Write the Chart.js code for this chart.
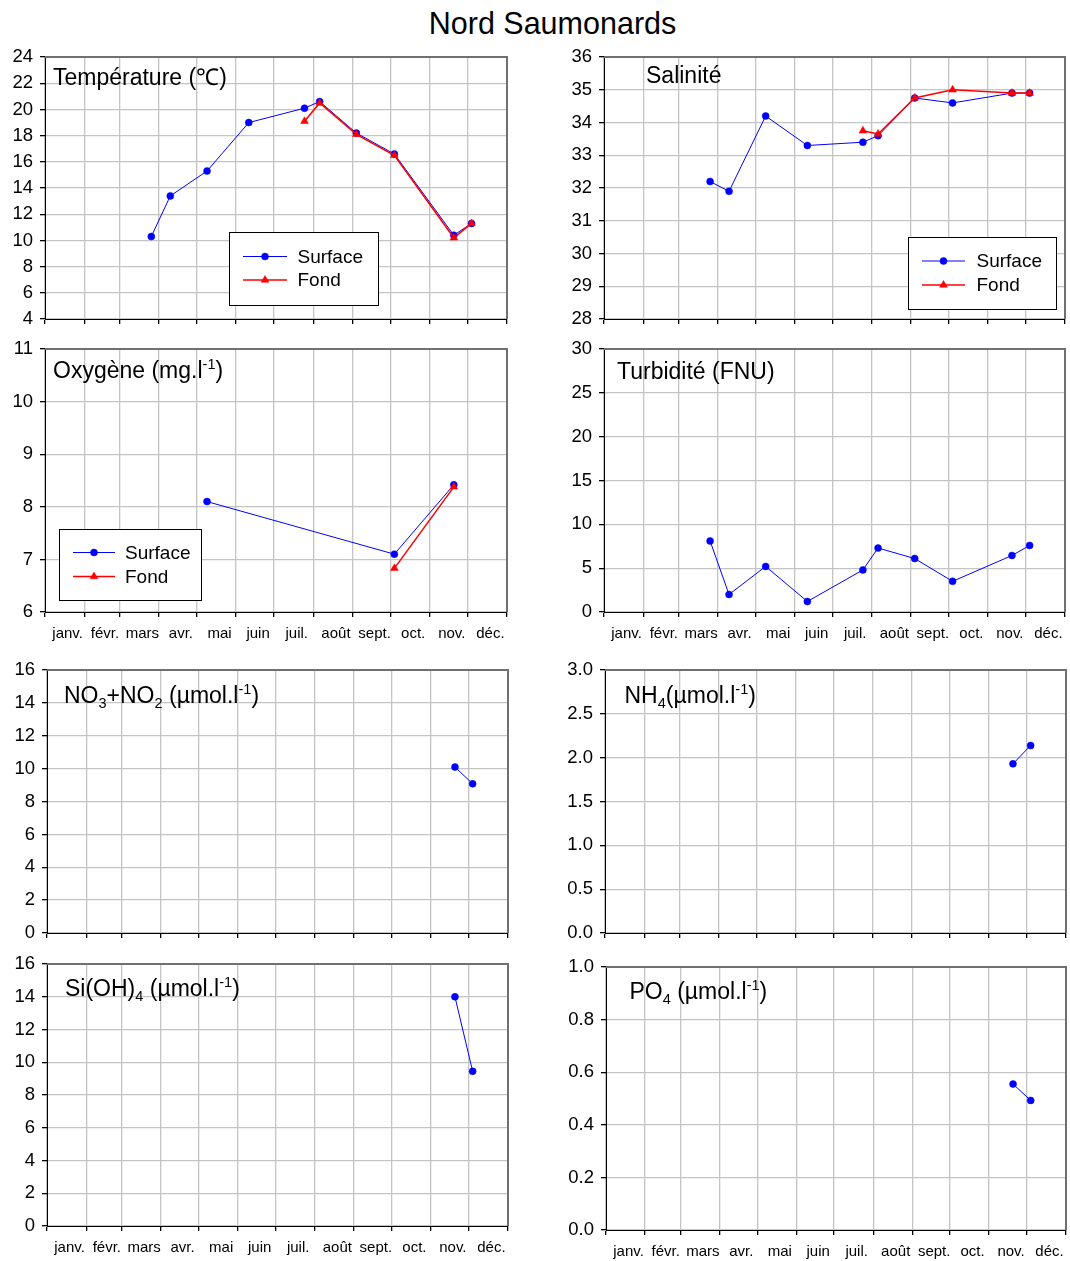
<!DOCTYPE html>
<html><head><meta charset="utf-8">
<script src="https://cdn.jsdelivr.net/npm/chart.js@4/dist/chart.umd.min.js"></script>
<style>
html,body{margin:0;padding:0;background:#fff;}
body{width:1070px;height:1261px;position:relative;overflow:hidden;font-family:"Liberation Sans",Arial,sans-serif;color:#000;}
canvas{position:absolute;}
#main{position:absolute;left:0;width:1105px;text-align:center;top:8px;font-size:30.5px;line-height:30px;}
.ttl{position:absolute;font-size:23px;line-height:22px;white-space:nowrap;}
.ttl sub,.ttl sup{font-size:14.5px;line-height:0;}
.ttl sub{vertical-align:-5px;}
.ttl sup{vertical-align:9px;}
</style></head>
<body>
<div id="main">Nord Saumonards</div>
<script>
// ---------- DATA ----------
const monthLabels = ['janv.','févr.','mars','avr.','mai','juin','juil.','août','sept.','oct.','nov.','déc.'];
const monthStarts = [0,31,59,90,120,151,181,212,243,273,304,334,365];
const sampleDays  = [84, 99, 128, 161, 205, 217, 246, 276, 323, 337];

const tempSurface = [10.3, 13.4, 15.3, 19.0, 20.1, 20.6, 18.2, 16.6, 10.4, 11.3];
const tempFond    = [null, null, null, null, 19.1, 20.5, 18.1, 16.5, 10.2, 11.3];
const salSurface  = [32.2, 31.9, 34.2, 33.3, 33.4, 33.6, 34.75, 34.6, 34.9, 34.9];
const salFond     = [null, null, null, null, 33.75, 33.65, 34.75, 35.0, 34.9, 34.9];
const oxySurface  = [null, null, 8.1, null, null, null, null, 7.1, 8.42, null];
const oxyFond     = [null, null, null, null, null, null, null, 6.83, 8.38, null];
const turbSurface = [8.1, 2.0, 5.2, 1.2, 4.8, 7.3, 6.1, 3.5, 6.45, 7.6];
const no3Surface  = [null, null, null, null, null, null, null, null, 10.1, 9.08];
const nh4Surface  = [null, null, null, null, null, null, null, null, 1.93, 2.14];
const siSurface   = [null, null, null, null, null, null, null, null, 14.0, 9.45];
const po4Surface  = [null, null, null, null, null, null, null, null, 0.555, 0.493];

const tempTicks = [4,6,8,10,12,14,16,18,20,22,24];
const salTicks  = [28,29,30,31,32,33,34,35,36];
const oxyTicks  = [6,7,8,9,10,11];
const turbTicks = [0,5,10,15,20,25,30];
const no3Ticks  = [0,2,4,6,8,10,12,14,16];
const nh4Ticks  = [0,0.5,1.0,1.5,2.0,2.5,3.0];
const siTicks   = [0,2,4,6,8,10,12,14,16];
const po4Ticks  = [0,0.2,0.4,0.6,0.8,1.0];

// ---------- HELPERS ----------
const FONT = '"Liberation Sans", Arial, sans-serif';
const AXW = 50, PADT = 18, PADR = 8, XAH = 42;
const midMap = new Map();
for (let i = 0; i < 12; i++) midMap.set((monthStarts[i] + monthStarts[i+1]) / 2, i);

function pts(vals){ return sampleDays.map((d,i)=>({x:d, y:vals[i]})).filter(p=>p.y!==null); }

function surfaceDs(vals){
  return {label:'Surface', data:pts(vals), borderColor:'#0000ff', backgroundColor:'#0000ff',
    borderWidth:1, pointStyle:'circle', pointRadius:3.5, pointBorderWidth:0.5,
    pointBackgroundColor:'#0000ff', pointBorderColor:'#0000ff', order:1, tension:0};
}
function fondDs(vals){
  return {label:'Fond', data:pts(vals), borderColor:'#ff0000', backgroundColor:'#ff0000',
    borderWidth:1.5, pointStyle:'triangle', pointRadius:4.5, pointBorderWidth:0.5,
    pointBackgroundColor:'#ff0000', pointBorderColor:'#ff0000', order:0, tension:0};
}

const framePlugin = {
  id:'frame',
  afterDatasetsDraw(chart){
    const {left, top, right, bottom} = chart.chartArea;
    const ctx = chart.ctx;
    ctx.save();
    ctx.strokeStyle = '#707070'; ctx.lineWidth = 2;
    ctx.beginPath(); ctx.moveTo(left, top); ctx.lineTo(right, top); ctx.lineTo(right, bottom); ctx.stroke();
    ctx.restore();
  }
};

const legendPlugin = {
  id:'boxLegend',
  afterDraw(chart, args, opts){
    if (!opts || !opts.box) return;
    const ctx = chart.ctx, ox = opts.ox, oy = opts.oy;
    const [x1,y1,x2,y2] = opts.box;
    ctx.save();
    ctx.fillStyle = '#fff';
    ctx.fillRect(x1-ox, y1-oy, x2-x1, y2-y1);
    ctx.strokeStyle = '#000'; ctx.lineWidth = 1;
    ctx.strokeRect(Math.round(x1-ox)+0.5, Math.round(y1-oy)+0.5, Math.round(x2-x1), Math.round(y2-y1));
    const dsList = chart.data.datasets;
    dsList.forEach((ds,i)=>{
      const y = opts.rows[i] - oy;
      ctx.strokeStyle = ds.borderColor; ctx.lineWidth = ds.borderWidth;
      ctx.beginPath(); ctx.moveTo(opts.lineX[0]-ox, y); ctx.lineTo(opts.lineX[1]-ox, y); ctx.stroke();
      ctx.fillStyle = ds.pointBackgroundColor; ctx.strokeStyle = ds.pointBorderColor; ctx.lineWidth = ds.pointBorderWidth;
      Chart.helpers.drawPoint(ctx, {pointStyle:ds.pointStyle, radius:ds.pointRadius, borderWidth:ds.pointBorderWidth, rotation:0},
        (opts.lineX[0]+opts.lineX[1])/2 - ox, y);
      ctx.fillStyle = '#000';
      ctx.font = '19px ' + FONT;
      ctx.textBaseline = 'middle'; ctx.textAlign = 'left';
      ctx.fillText(ds.label, opts.textX - ox, y + 1);
    });
    ctx.restore();
  }
};

function makePanel(p){
  const cw = (p.r - p.l) + AXW + PADR;
  const ch = (p.b - p.t) + PADT + XAH;
  const ox = p.l - AXW, oy = p.t - PADT;
  const cv = document.createElement('canvas');
  cv.width = cw; cv.height = ch;
  cv.style.left = ox + 'px'; cv.style.top = oy + 'px';
  cv.style.width = cw + 'px'; cv.style.height = ch + 'px';
  document.body.appendChild(cv);

  const t = document.createElement('div');
  t.className = 'ttl';
  t.innerHTML = p.title;
  t.style.left = p.titleX + 'px';
  t.style.top = (p.titleBase - 19.1) + 'px';
  document.body.appendChild(t);

  const isMid = v => midMap.has(v);
  const legendOpts = p.legend ? Object.assign({ox, oy}, p.legend) : null;

  new Chart(cv, {
    type:'line',
    data:{datasets:p.datasets},
    options:{
      responsive:false, animation:false, devicePixelRatio:1,
      spanGaps:true,
      layout:{autoPadding:false, padding:{left:0, top:PADT, right:PADR, bottom:0}},
      plugins:{legend:{display:false}, tooltip:{enabled:false}, title:{display:false},
        boxLegend: legendOpts || {}},
      scales:{
        x:{
          type:'linear', min:0, max:365, position:'bottom',
          afterBuildTicks(s){
            const arr = [];
            for (let i = 0; i <= 12; i++){
              arr.push({value:monthStarts[i]});
              if (i < 12) arr.push({value:(monthStarts[i]+monthStarts[i+1])/2});
            }
            s.ticks = arr;
          },
          afterFit(s){ s.height = XAH; },
          ticks:{
            autoSkip:false, maxRotation:0, minRotation:0, padding:8, labelOffset:3,
            color:'#000', font:{family:FONT, size:15},
            callback:(v)=> (p.showX && isMid(v)) ? monthLabels[midMap.get(v)] : ''
          },
          grid:{
            color:(c)=> (c.tick && isMid(c.tick.value)) ? 'rgba(0,0,0,0)' : '#c4c4c4',
            tickColor:(c)=> (c.tick && isMid(c.tick.value)) ? 'rgba(0,0,0,0)' : '#000',
            tickLength:5, lineWidth:1.3, drawTicks:true
          },
          border:{color:'#000', width:1}
        },
        y:{
          type:'linear', min:p.ticks[0], max:p.ticks[p.ticks.length-1],
          afterBuildTicks(s){ s.ticks = p.ticks.map(v=>({value:v})); },
          afterFit(s){ s.width = AXW; },
          ticks:{
            padding:7, color:'#000', font:{family:FONT, size:18.5},
            callback:(v)=> v.toFixed(p.dec)
          },
          grid:{color:'#c4c4c4', tickColor:'#000', tickLength:5, lineWidth:1.3},
          border:{color:'#000', width:1}
        }
      }
    },
    plugins:[framePlugin, legendPlugin]
  });
}

const SUP = '<sup>-1</sup>';
makePanel({l:45, r:507, t:57, b:319, ticks:tempTicks, dec:0, showX:false,
  title:'Température (℃)', titleX:53, titleBase:85,
  datasets:[surfaceDs(tempSurface), fondDs(tempFond)],
  legend:{box:[229,232,378,305], lineX:[243,287], rows:[256.5,280], textX:297.5}});
makePanel({l:604, r:1065, t:57, b:319, ticks:salTicks, dec:0, showX:false,
  title:'Salinité', titleX:646, titleBase:83.5,
  datasets:[surfaceDs(salSurface), fondDs(salFond)],
  legend:{box:[908,237,1056,309], lineX:[922,965], rows:[261,285], textX:976.5}});
makePanel({l:45, r:507, t:349, b:612, ticks:oxyTicks, dec:0, showX:true,
  title:'Oxygène (mg.l'+SUP+')', titleX:53, titleBase:378.5,
  datasets:[surfaceDs(oxySurface), fondDs(oxyFond)],
  legend:{box:[59,529,201,600], lineX:[73,115], rows:[552.5,576.5], textX:125}});
makePanel({l:604, r:1065, t:349, b:612, ticks:turbTicks, dec:0, showX:true,
  title:'Turbidité (FNU)', titleX:617, titleBase:379.5,
  datasets:[surfaceDs(turbSurface)]});
makePanel({l:47, r:508, t:670, b:933, ticks:no3Ticks, dec:0, showX:false,
  title:'NO<sub>3</sub>+NO<sub>2</sub> (µmol.l'+SUP+')', titleX:64, titleBase:703.5,
  datasets:[surfaceDs(no3Surface)]});
makePanel({l:605, r:1066, t:670, b:933, ticks:nh4Ticks, dec:1, showX:false,
  title:'NH<sub>4</sub>(µmol.l'+SUP+')', titleX:624.5, titleBase:703.5,
  datasets:[surfaceDs(nh4Surface)]});
makePanel({l:47, r:508, t:964, b:1226, ticks:siTicks, dec:0, showX:true,
  title:'Si(OH)<sub>4</sub> (µmol.l'+SUP+')', titleX:65, titleBase:996,
  datasets:[surfaceDs(siSurface)]});
makePanel({l:606, r:1066, t:967, b:1230, ticks:po4Ticks, dec:1, showX:true,
  title:'PO<sub>4</sub> (µmol.l'+SUP+')', titleX:629.5, titleBase:999.5,
  datasets:[surfaceDs(po4Surface)]});
</script>
</body></html>
